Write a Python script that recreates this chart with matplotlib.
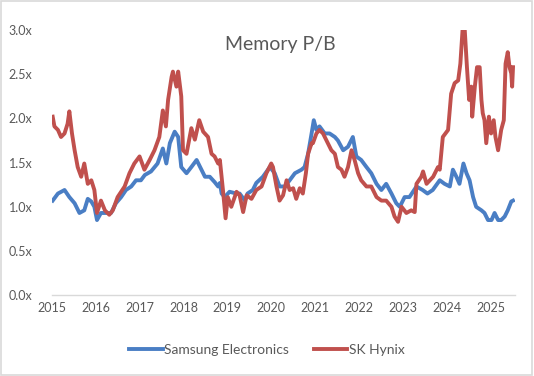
import matplotlib
matplotlib.use('Agg')
import matplotlib.pyplot as plt
from matplotlib.patches import Rectangle

# P/B multiples (decimal year, value)
samsung_t = [2015.02, 2015.14, 2015.29, 2015.40, 2015.52, 2015.63, 2015.74, 2015.82, 2015.90, 2015.97,
             2016.03, 2016.12, 2016.24, 2016.35, 2016.46, 2016.58, 2016.69, 2016.81, 2016.92, 2017.03,
             2017.12, 2017.26, 2017.41, 2017.53, 2017.61, 2017.69, 2017.80, 2017.88, 2017.95, 2018.07,
             2018.18, 2018.30, 2018.41, 2018.49, 2018.60, 2018.71, 2018.79, 2018.83, 2018.87, 2018.94,
             2019.05, 2019.21, 2019.28, 2019.40, 2019.46, 2019.58, 2019.66, 2019.81, 2019.97, 2020.08,
             2020.19, 2020.31, 2020.42, 2020.54, 2020.69, 2020.76, 2020.84, 2020.92, 2020.97, 2021.03,
             2021.10, 2021.22, 2021.33, 2021.45, 2021.52, 2021.64, 2021.75, 2021.86, 2021.94, 2022.05,
             2022.17, 2022.28, 2022.40, 2022.51, 2022.62, 2022.74, 2022.85, 2022.93, 2023.04, 2023.15,
             2023.31, 2023.45, 2023.56, 2023.68, 2023.84, 2023.95, 2024.07, 2024.14, 2024.22, 2024.29,
             2024.38, 2024.45, 2024.52, 2024.60, 2024.67, 2024.79, 2024.86, 2024.94, 2025.02, 2025.09,
             2025.17, 2025.24, 2025.32, 2025.39, 2025.47, 2025.51]
samsung_pb = [1.07, 1.15, 1.19, 1.11, 1.04, 0.93, 0.96, 1.09, 1.06, 1.00,
              0.85, 0.93, 0.93, 0.93, 1.04, 1.11, 1.19, 1.23, 1.30, 1.30,
              1.36, 1.40, 1.49, 1.66, 1.49, 1.72, 1.85, 1.79, 1.45, 1.38,
              1.45, 1.53, 1.42, 1.34, 1.34, 1.28, 1.23, 1.27, 1.15, 1.11,
              1.17, 1.15, 1.15, 1.07, 1.15, 1.19, 1.27, 1.34, 1.45, 1.38,
              1.23, 1.23, 1.30, 1.38, 1.42, 1.45, 1.60, 1.83, 1.98, 1.87,
              1.91, 1.83, 1.83, 1.79, 1.75, 1.64, 1.68, 1.79, 1.57, 1.53,
              1.45, 1.38, 1.26, 1.19, 1.26, 1.15, 1.04, 1.00, 1.11, 1.11,
              1.23, 1.19, 1.15, 1.19, 1.30, 1.26, 1.23, 1.42, 1.34, 1.26,
              1.49, 1.38, 1.30, 1.11, 1.00, 0.96, 0.93, 0.85, 0.85, 0.93,
              0.85, 0.85, 0.89, 0.96, 1.06, 1.07]

hynix_t = [2015.02, 2015.06, 2015.14, 2015.21, 2015.29, 2015.36, 2015.40, 2015.46, 2015.52, 2015.59,
           2015.67, 2015.74, 2015.82, 2015.90, 2015.97, 2016.03, 2016.12, 2016.21, 2016.31, 2016.39,
           2016.50, 2016.66, 2016.77, 2016.88, 2017.00, 2017.11, 2017.23, 2017.34, 2017.45, 2017.53,
           2017.60, 2017.65, 2017.73, 2017.76, 2017.84, 2017.88, 2017.95, 2017.99, 2018.07, 2018.18,
           2018.26, 2018.36, 2018.45, 2018.56, 2018.64, 2018.71, 2018.79, 2018.83, 2018.90, 2018.96,
           2019.01, 2019.09, 2019.21, 2019.28, 2019.36, 2019.44, 2019.55, 2019.66, 2019.78, 2019.89,
           2020.00, 2020.04, 2020.12, 2020.19, 2020.27, 2020.35, 2020.42, 2020.50, 2020.57, 2020.65,
           2020.72, 2020.79, 2020.84, 2020.92, 2020.95, 2021.03, 2021.10, 2021.18, 2021.29, 2021.37,
           2021.45, 2021.52, 2021.60, 2021.67, 2021.75, 2021.83, 2021.90, 2021.98, 2022.05, 2022.17,
           2022.28, 2022.40, 2022.51, 2022.62, 2022.74, 2022.81, 2022.89, 2022.97, 2023.08, 2023.19,
           2023.27, 2023.31, 2023.42, 2023.46, 2023.54, 2023.69, 2023.80, 2023.84, 2023.91, 2024.03,
           2024.10, 2024.18, 2024.26, 2024.31, 2024.36, 2024.41, 2024.46, 2024.51, 2024.56, 2024.58,
           2024.64, 2024.69, 2024.75, 2024.79, 2024.82, 2024.86, 2024.90, 2024.96, 2025.01, 2025.07,
           2025.11, 2025.17, 2025.24, 2025.30, 2025.34, 2025.39, 2025.43, 2025.47, 2025.49, 2025.51]
hynix_pb = [2.02, 1.91, 1.87, 1.79, 1.83, 1.94, 2.08, 1.83, 1.64, 1.45,
            1.34, 1.49, 1.26, 1.30, 1.19, 0.93, 1.07, 0.96, 0.91, 0.96,
            1.11, 1.23, 1.38, 1.49, 1.57, 1.42, 1.53, 1.64, 1.79, 2.09,
            1.91, 2.21, 2.47, 2.53, 2.36, 2.53, 2.25, 1.64, 1.60, 1.89,
            1.76, 1.98, 1.85, 1.79, 1.60, 1.57, 1.49, 1.53, 1.19, 0.87,
            1.11, 1.00, 1.17, 1.13, 0.94, 1.13, 1.09, 1.19, 1.23, 1.38,
            1.49, 1.45, 1.23, 1.07, 1.13, 1.30, 1.19, 1.21, 1.09, 1.21,
            1.15, 1.38, 1.60, 1.72, 1.72, 1.83, 1.87, 1.83, 1.72, 1.64,
            1.60, 1.45, 1.42, 1.34, 1.45, 1.64, 1.53, 1.38, 1.30, 1.23,
            1.23, 1.11, 1.07, 1.07, 1.00, 0.89, 0.83, 1.00, 0.93, 0.96,
            0.94, 1.26, 1.34, 1.40, 1.26, 1.34, 1.45, 1.42, 1.79, 1.87,
            2.28, 2.40, 2.43, 2.62, 3.00, 3.00, 2.58, 2.21, 2.36, 2.02,
            2.36, 2.58, 2.58, 2.21, 2.06, 1.98, 1.72, 2.02, 1.83, 1.98,
            1.79, 1.64, 1.87, 1.98, 2.62, 2.75, 2.58, 2.51, 2.36, 2.58]

years = list(range(2015, 2026))
y_ticks = [0.0, 0.5, 1.0, 1.5, 2.0, 2.5, 3.0]

grey = '#595959'
plt.rcParams['font.family'] = ['Lato', 'DejaVu Sans']

fig = plt.figure(figsize=(5.34, 3.76), dpi=100)
fig.patches.append(Rectangle((0.002, 0.003), 0.995, 0.994, transform=fig.transFigure,
                             fill=False, edgecolor='#d9d9d9', linewidth=1.2))
ax = fig.add_axes([0.097, 0.215, 0.867, 0.705])

ax.plot(samsung_t, samsung_pb, color='#4a7ec4', linewidth=2.8, label='Samsung Electronics',
        solid_joinstyle='round')
ax.plot(hynix_t, hynix_pb, color='#c0504d', linewidth=2.8, label='SK Hynix',
        solid_joinstyle='round')

ax.set_xlim(2015, 2025.55)
ax.set_ylim(0, 3.0)
ax.set_xticks(years)
ax.set_xticklabels([str(y) for y in years])
ax.set_yticks(y_ticks)
ax.set_yticklabels([f'{v:.1f}x' for v in y_ticks])
ax.tick_params(length=0, labelsize=9, colors=grey, pad=5)
ax.tick_params(axis='y', pad=14)

for side in ['top', 'right', 'left']:
    ax.spines[side].set_visible(False)
ax.spines['bottom'].set_color('#d9d9d9')
ax.spines['bottom'].set_linewidth(1.0)

fig.text(0.525, 0.882, 'Memory P/B', ha='center', va='center', fontsize=14, color=grey)

fig.legend(loc='center', bbox_to_anchor=(0.5, 0.07), ncol=2, frameon=False, fontsize=10,
           labelcolor=grey, handlelength=2.4, handletextpad=0.1, columnspacing=1.8)

fig.savefig('out.png', dpi=100)
